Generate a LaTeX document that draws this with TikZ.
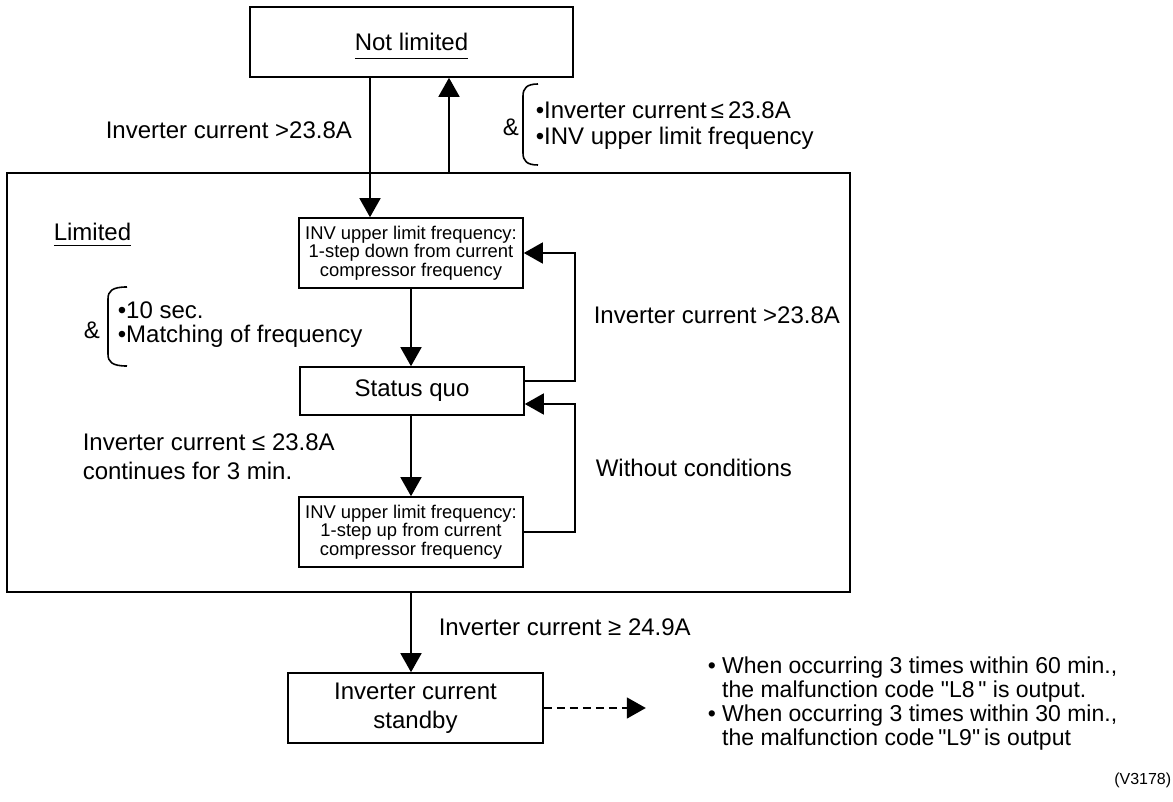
\documentclass[tikz,border=0pt]{standalone}
\usepackage{fontspec}
\setmainfont{Liberation Sans}[Ligatures=TeXOff]
\usetikzlibrary{arrows.meta}

\begin{document}
\begin{tikzpicture}[x=0.5pt, y=-0.5pt, line width=0.8pt,
    box/.style={draw, minimum width=112pt, inner sep=0pt, align=center, font=\fontsize{12}{14.5}\selectfont},
    smallbox/.style={box, minimum height=35pt, font=\fontsize{9.2}{9.3}\selectfont},
    lbl/.style={anchor=west, align=left, inner sep=0pt, font=\fontsize{12}{14.5}\selectfont},
    arr/.style={-{Triangle[length=9.5pt, width=10.5pt]}}]
    \useasboundingbox (0,0) rectangle (1173,802);

    % Frame of the limited state
    \node[draw, minimum width=421.5pt, minimum height=209.5pt, inner sep=0pt] (frame) at (428.5,382.5) {};

    % Not limited
    \node[box, minimum width=161.5pt, minimum height=35pt, text depth=0pt] (top) at (411.5,42) {\underline{Not limited\rule[-2.7pt]{0pt}{1pt}}};

    % Steps inside the frame
    \node[smallbox] (down) at (411,253) {INV upper limit frequency:\\1-step down from current\\compressor frequency};
    \node[box, minimum height=24pt] (quo) at (412,391) {Status quo};
    \node[smallbox] (up) at (411,532) {INV upper limit frequency:\\1-step up from current\\compressor frequency};

    % Standby
    \node[box, minimum width=127.5pt, minimum height=35pt] (standby) at (415.5,708) {Inverter current\\standby};
    \coordinate (dashend) at ([xshift=51pt]standby.east);

    % Transitions
    \draw[arr] ([xshift=-20.75pt]top.south) -- ([xshift=-20.75pt]top.south |- down.north);
    \draw[arr] ([xshift=18.75pt]top.south |- frame.north) -- ([xshift=18.75pt]top.south);
    \draw[arr] (down.south) -- (down.south |- quo.north);
    \draw[arr] (quo.south -| up.north) -- (up.north);
    \draw[arr] ([yshift=5pt]quo.east) -- ++(25pt,0) |- (down.east);
    \draw[arr] (up.east) -- ++(25.5pt,0) |- ([yshift=-6.5pt]quo.east);
    \draw[arr] (frame.south -| down.south) -- (standby.north -| down.south);
    \draw[arr, dash pattern=on 4pt off 2.5pt] (standby.east) -- (dashend);

    % Brackets
    \draw (538,84) .. controls (527,84) and (523,88) .. (523,96) -- (523,153) .. controls (523,161) and (527,165) .. (538,165);
    \draw (127,287) .. controls (112,287) and (108,291) .. (108,299) -- (108,354) .. controls (108,362) and (112,366) .. (127,366);

    % Conditions
    \node[lbl] (gtA) at (105,130) {Inverter current >23.8A};
    \node[lbl] (amp1) at (502,127) {\&};
    \node[lbl, font=\fontsize{12}{13}\selectfont] (back) at (535,126) {\textbullet Inverter current\,≤\,23.8A\\\textbullet INV upper limit frequency};
    \node[lbl, anchor=base west] (limited) at (53,240.5) {\underline{Limited\rule[-1.2pt]{0pt}{1pt}}};
    \node[lbl] (amp2) at (83,330) {\&};
    \node[lbl, font=\fontsize{12}{12}\selectfont] (cond) at (117,325) {\textbullet 10 sec.\\\textbullet Matching of frequency};
    \node[lbl] (gtB) at (593,315) {Inverter current >23.8A};
    \node[lbl] (leA) at (82,457) {Inverter current ≤ 23.8A\\continues for 3 min.};
    \node[lbl] (free) at (595,468) {Without conditions};
    \node[lbl] (geA) at (438,627) {Inverter current ≥ 24.9A};
    \node[lbl, font=\fontsize{11.5}{12}\selectfont] (notes) at (707,704) {\textbullet\ When occurring 3 times within 60 min.,\\\hphantom{\textbullet\ }the malfunction code "L8\," is output.\\\textbullet\ When occurring 3 times within 30 min.,\\\hphantom{\textbullet\ }the malfunction code\,"L9"\,is output};
    \node[anchor=east, inner sep=0pt, font=\fontsize{8}{9}\selectfont] (code) at (1172,780) {(V3178)};
\end{tikzpicture}
\end{document}
